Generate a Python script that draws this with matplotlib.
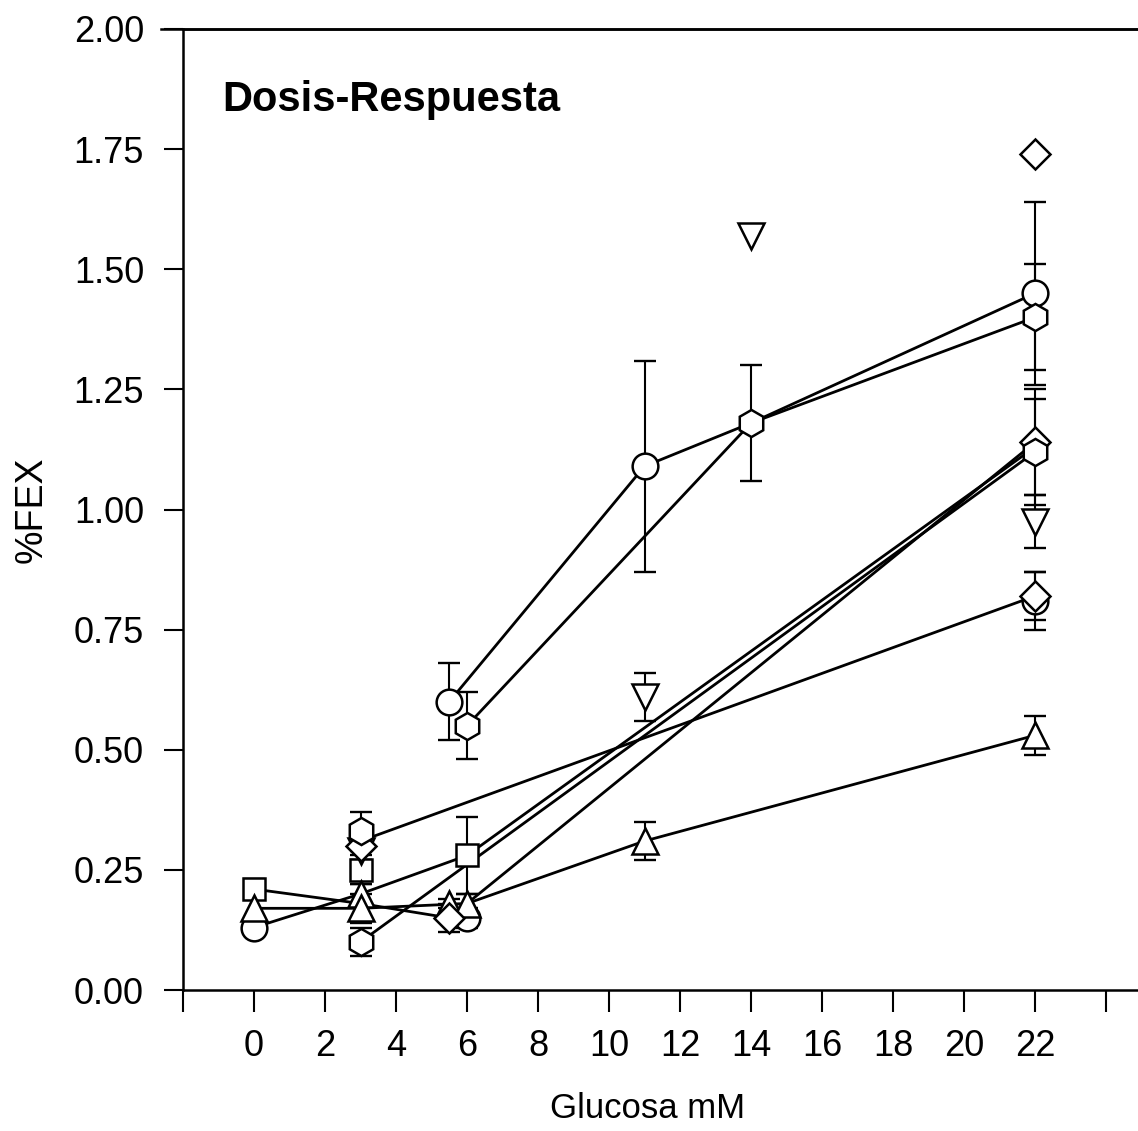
import numpy as np
import matplotlib
matplotlib.use("Agg")
import matplotlib.pyplot as plt
from matplotlib.lines import Line2D

plt.rcParams['font.family'] = ['Liberation Sans', 'DejaVu Sans']

# connecting lines (group means)
line_circ_hi_x = [5.5, 11, 14, 22]
line_circ_hi_y = [0.60, 1.09, 1.18, 1.45]
line_hex_hi_x = [6, 14, 22]
line_hex_hi_y = [0.55, 1.18, 1.40]
line_tri_x = [0, 3, 6, 11, 22]
line_tri_y = [0.17, 0.17, 0.18, 0.31, 0.53]
line_circ_lo_x = [0, 3, 6, 22]
line_circ_lo_y = [0.13, 0.20, 0.28, 1.13]
line_sq_x = [0, 3, 5.5, 22]
line_sq_y = [0.21, 0.18, 0.15, 1.14]
line_hex_lo_x = [3, 22]
line_hex_lo_y = [0.10, 1.12]
line_dia_x = [3, 22]
line_dia_y = [0.31, 0.82]

# markers with error bars
circ_x = [0, 6, 22, 5.5, 11, 22]
circ_y = [0.13, 0.15, 0.81, 0.60, 1.09, 1.45]
circ_err = [0.01, 0.02, 0.06, 0.08, 0.22, 0.19]

sq_x = [0, 3, 6]
sq_y = [0.21, 0.25, 0.28]
sq_err = [0.02, 0.03, 0.08]

tdn_x = [3, 11, 14, 22]
tdn_y = [0.29, 0.61, 1.57, 0.975]
tdn_err = [0.02, 0.05, 0.0, 0.055]

tup_x = [0, 3, 3, 5.5, 6, 11, 22]
tup_y = [0.17, 0.20, 0.17, 0.18, 0.18, 0.31, 0.53]
tup_err = [0.02, 0.02, 0.03, 0.01, 0.02, 0.04, 0.04]

dia_x = [3, 5.5, 22, 22, 22]
dia_y = [0.30, 0.15, 0.82, 1.14, 1.74]
dia_err = [0.03, 0.03, 0.05, 0.11, 0.0]

hex_x = [3, 3, 6, 14, 22, 22]
hex_y = [0.33, 0.10, 0.55, 1.18, 1.40, 1.12]
hex_err = [0.04, 0.03, 0.07, 0.12, 0.11, 0.11]

x_ticks = np.arange(-2, 25, 2)
x_labels = ['' if (t < 0 or t > 22) else str(t) for t in x_ticks]
y_ticks = [0.00, 0.25, 0.50, 0.75, 1.00, 1.25, 1.50, 1.75, 2.00]

fig = plt.figure(figsize=(11.38, 11.31), dpi=100)
ax = fig.add_axes([183 / 1138, 141 / 1131, 955 / 1138, 961 / 1131])

lines = [
    (line_circ_hi_x, line_circ_hi_y),
    (line_hex_hi_x, line_hex_hi_y),
    (line_tri_x, line_tri_y),
    (line_circ_lo_x, line_circ_lo_y),
    (line_sq_x, line_sq_y),
    (line_hex_lo_x, line_hex_lo_y),
    (line_dia_x, line_dia_y),
]
for lx, ly in lines:
    ax.plot(lx, ly, color='black', lw=2.0, zorder=2)

groups = [
    (circ_x, circ_y, circ_err, 'o', 18.5),
    (sq_x, sq_y, sq_err, 's', 16),
    (tdn_x, tdn_y, tdn_err, 'v', 18.5),
    (tup_x, tup_y, tup_err, '^', 18.5),
    (dia_x, dia_y, dia_err, 'D', 15.5),
    (hex_x, hex_y, hex_err, 'h', 19.5),
]
for gx, gy, ge, mk, ms in groups:
    err = np.array(ge)
    has = err > 0
    ax.errorbar(np.array(gx)[has], np.array(gy)[has], yerr=err[has], fmt='none',
                ecolor='black', elinewidth=1.5, capsize=8, capthick=1.7, zorder=1)
for i, (gx, gy, ge, mk, ms) in enumerate(groups):
    ax.plot(gx, gy, linestyle='none', marker=mk, ms=ms, mfc='white',
            mec='black', mew=1.8, zorder=3 + i)

ax.set_xlim(-2, 24.9)
ax.set_ylim(0, 2.0)
ax.set_xticks(x_ticks)
ax.set_xticklabels(x_labels)
ax.set_yticks(y_ticks)
ax.set_yticklabels([f"{v:.2f}" for v in y_ticks])
ax.tick_params(axis='x', direction='out', length=16, width=1.5, pad=12, labelsize=26)
ax.tick_params(axis='y', direction='out', length=14, width=1.5, pad=14, labelsize=26)

ax.spines['right'].set_visible(False)
for s in ['left', 'top', 'bottom']:
    ax.spines[s].set_linewidth(1.8)

# top frame line runs a little past the left axis
fig.add_artist(Line2D([161 / 1138, 1.0], [1 - 29 / 1131, 1 - 29 / 1131],
                      transform=fig.transFigure, color='black', lw=1.8))

fig.text(222 / 1138, 1 - 100 / 1131, 'Dosis-Respuesta', fontsize=30,
         fontweight='bold', ha='left', va='center')
fig.text(648 / 1138, 1 - 1108 / 1131, 'Glucosa mM', fontsize=25, ha='center', va='center')
fig.text(32 / 1138, 1 - 510 / 1131, '%FEX', fontsize=27, ha='center', va='center', rotation=90)

fig.savefig('out.png', dpi=100)
